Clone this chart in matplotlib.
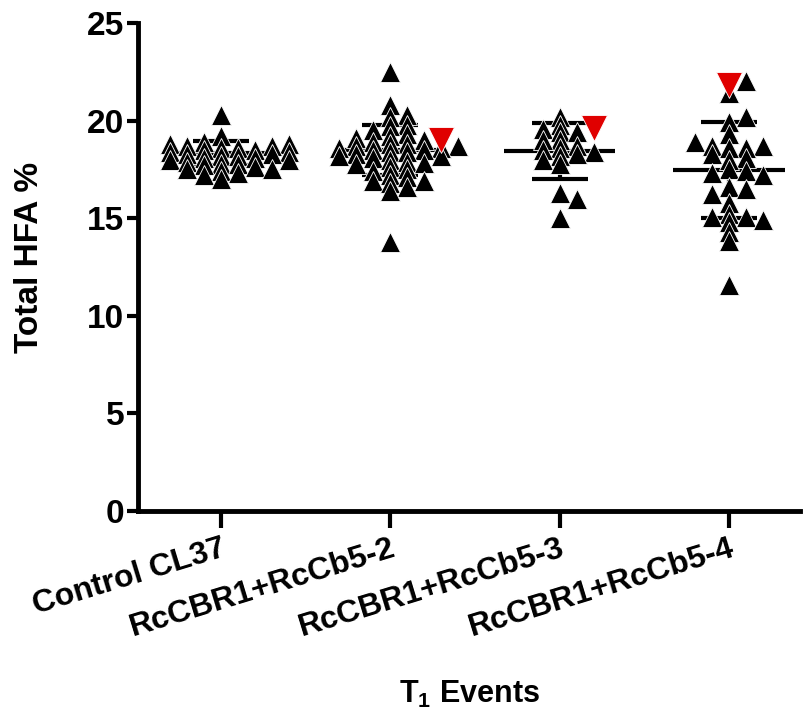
import numpy as np
import matplotlib
matplotlib.use("Agg")
import matplotlib.pyplot as plt

plt.rcParams['font.family'] = ['Liberation Sans', 'DejaVu Sans']
plt.rcParams['font.weight'] = 'bold'
plt.rcParams['mathtext.fontset'] = 'custom'
plt.rcParams['mathtext.bf'] = 'Liberation Sans:bold'
plt.rcParams['mathtext.rm'] = 'Liberation Sans:bold'

# data
groups = ['Control CL37', 'RcCBR1+RcCb5-2', 'RcCBR1+RcCb5-3', 'RcCBR1+RcCb5-4']

ctrl = [20.3, 19.2, 18.9, 18.8, 18.8, 18.7, 18.7, 18.6, 18.6, 18.5, 18.5, 18.4,
        18.4, 18.3, 18.3, 18.2, 18.2, 18.1, 18.1, 18.0, 18.0, 17.9, 17.8, 17.8,
        17.7, 17.6, 17.5, 17.5, 17.4, 17.3, 17.2, 17.0]
ev2 = [22.5, 20.8, 20.3, 20.2, 19.8, 19.7, 19.5, 19.3, 19.2, 19.1, 19.0, 18.9,
       18.8, 18.8, 18.7, 18.7, 18.6, 18.6, 18.5, 18.5, 18.4, 18.4, 18.3, 18.2,
       18.2, 18.1, 18.0, 17.9, 17.85, 17.8, 17.6, 17.5, 17.4, 17.2, 17.1, 16.9,
       16.9, 16.8, 16.6, 16.4, 13.8]
ev3 = [20.2, 19.8, 19.55, 19.4, 19.4, 19.0, 19.0, 18.7, 18.6, 18.5, 18.4, 18.3,
       18.2, 18.0, 17.8, 16.3, 16.0, 15.0]
ev4 = [22.05, 21.4, 20.2, 19.95, 19.3, 18.9, 18.7, 18.7, 18.6, 18.6, 18.3, 18.1,
       18.0, 17.5, 17.4, 17.3, 17.2, 16.6, 16.5, 16.25, 15.8, 15.2, 15.05, 15.05,
       14.9, 14.8, 14.3, 13.85, 11.6]
black_pts = [ctrl, ev2, ev3, ev4]

# red highlighted plants (None = no red point)
red_pts = [None, 19.0, 19.6, 21.8]

means = [18.35, 18.5, 18.45, 17.47]
sds = [0.6, 1.3, 1.45, 2.45]

# figure
fig = plt.figure(figsize=(8.04, 7.13), dpi=100)
ax = fig.add_axes([138 / 804, (713 - 511) / 713, (800 - 138) / 804, (511 - 23) / 713])
ax.set_xlim(-0.491, 3.42)
ax.set_ylim(0, 25)

# pixels per unit, used to spread the points like a column scatter
px_x = 169.0
px_y = 19.52


def swarm(vals, w=17.0, h=7.0, step=1.0):
    # column scatter: two points clash when they are closer than w across AND h up/down
    vals = np.asarray(vals, dtype=float)
    order = np.argsort(np.abs(vals - np.median(vals)))
    placed = []
    offs = np.zeros(len(vals))
    cands = [0.0]
    for k in range(1, 80):
        cands += [k * step, -k * step]
    for i in order:
        y = vals[i] * px_y
        for c in cands:
            if all(abs(c - px) >= w or abs(y - py) >= h for px, py in placed):
                break
        offs[i] = c / px_x
        placed.append((c, y))
    return offs


for i, pts in enumerate(black_pts):
    allv = list(pts) + ([red_pts[i]] if red_pts[i] is not None else [])
    offs = swarm(allv)
    n = len(pts)
    ax.plot(i + offs[:n], pts, '^', ms=14.5, color='black', mec='white', mew=0.6,
            zorder=3, clip_on=False)
    if red_pts[i] is not None:
        ax.plot(i + offs[n], red_pts[i], 'v', ms=19, color='#e00000', mec='white',
                mew=0.6, zorder=4, clip_on=False)
    # mean and SD
    ax.plot([i - 0.33, i + 0.33], [means[i], means[i]], color='black', lw=3, zorder=2,
            solid_capstyle='butt')
    ax.errorbar(i, means[i], yerr=sds[i], fmt='none', ecolor='black', elinewidth=3,
                capsize=20, capthick=3, zorder=2)

ax.spines['top'].set_visible(False)
ax.spines['right'].set_visible(False)
ax.spines['left'].set_linewidth(3.5)
ax.spines['bottom'].set_linewidth(3.5)

ax.set_yticks([0, 5, 10, 15, 20, 25])
ax.tick_params(axis='y', length=8, width=3, labelsize=24, pad=2)
ax.tick_params(axis='x', length=12, width=3, labelsize=23, pad=4)
ax.set_xticks(range(len(groups)))
ax.set_xticklabels(groups, rotation=17, ha='right', va='top', rotation_mode='anchor')
for lab in ax.get_yticklabels() + ax.get_xticklabels():
    lab.set_fontweight('bold')

ax.set_ylabel('Total HFA %', fontsize=24, fontweight='bold')
ax.yaxis.set_label_coords(-0.14, 0.52)
ax.set_xlabel(r'$\mathbf{T_1}$ Events', fontsize=22, fontweight='bold')
ax.xaxis.set_label_coords(0.5, -0.345)

fig.savefig('out.png', dpi=100)
